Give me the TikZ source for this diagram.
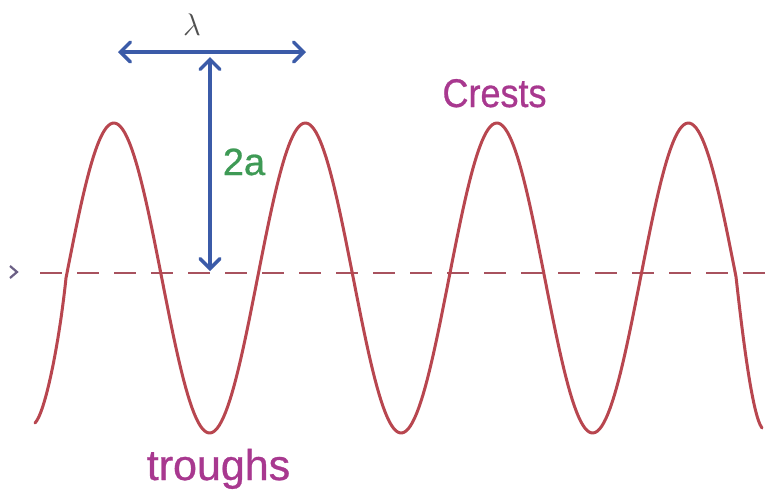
\documentclass[tikz,border=0pt]{standalone}
\usepackage{fontspec}
\newfontfamily\labfont{Liberation Sans}[FakeBold=0.7]
\usetikzlibrary{arrows.meta}
\definecolor{wavered}{HTML}{B8464F}
\definecolor{axisred}{HTML}{A8525E}
\definecolor{arrowblue}{HTML}{3B5BA8}
\definecolor{labgreen}{HTML}{3E9A55}
\definecolor{labmag}{HTML}{A8388F}
\definecolor{lamgray}{HTML}{505050}
\definecolor{chevgray}{HTML}{6B5F85}
\tikzset{
  wave/.style={draw=wavered, line width=3pt, line join=round, line cap=round},
  axisline/.style={draw=axisred, line width=2.6pt, dash pattern=on 22pt off 15pt},
  dimarrow/.style={draw=arrowblue, line width=3.4pt, {Straight Barb[length=10pt,width=20pt,line cap=round]}-{Straight Barb[length=10pt,width=20pt,line cap=round]}},
  lbl/.style={inner sep=0pt, anchor=base},
  chev/.style={draw=chevgray, line width=2.2pt, line join=miter}
}
\begin{document}
\begin{tikzpicture}[x=1pt,y=-1pt]
\useasboundingbox (0,0) rectangle (779,491);
\fill[white] (0,0) rectangle (779,491);

% axis
\coordinate (axL) at (40,273);
\coordinate (axR) at (779,273);
\draw[axisline] (axL) -- (axR);
\draw[chev] (10,266) -- (17,272) -- (10,278);

% wave
\coordinate (wS) at (35,423);
\coordinate (w1) at (66,278);
\coordinate (w2) at (736,277);
\coordinate (wE) at (762,428);
\draw[wave] (wS) .. controls (45,413) and (59,345) .. (w1)
  -- plot[domain=66:736, samples=320] (\x,{278-155*sin(((\x-66)/191.5)*360)})
  .. controls (742,330) and (752,415) .. (wE);

% dimension arrows
\coordinate (hL) at (118,52);
\coordinate (hR) at (306,52);
\coordinate (vT) at (210,57);
\coordinate (vB) at (210,271);
\draw[dimarrow] (hL) -- (hR);
\draw[dimarrow] (vT) -- (vB);

% labels
\node[lbl, text=lamgray, font=\fontsize{20}{20}\selectfont] (lam) at (192,35) {\scalebox{1.5}{$\lambda$}};
\node[lbl, text=labgreen, font=\fontsize{38}{38}\selectfont\labfont] (twoa) at (244,175) {2a};
\node[lbl, text=labmag, font=\fontsize{40}{40}\selectfont\labfont] (crests) at (494.5,107) {\scalebox{0.9}[1]{Crests}};
\node[lbl, text=labmag, font=\fontsize{43}{43}\selectfont\labfont] (troughs) at (218.5,480) {troughs};
\end{tikzpicture}
\end{document}
